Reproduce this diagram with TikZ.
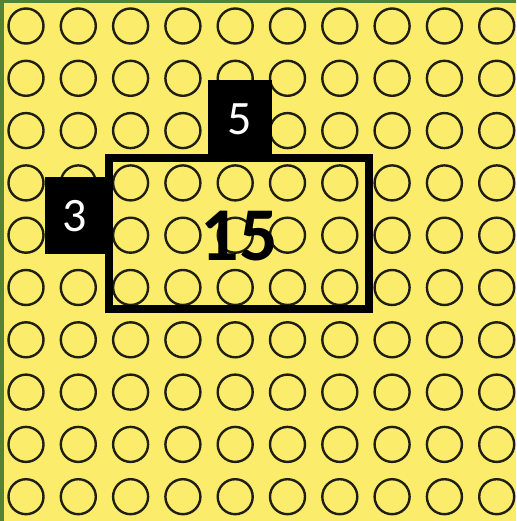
\documentclass[tikz,border=0pt]{standalone}
\usepackage{fontspec}
\setmainfont{Carlito}
\definecolor{bgyellow}{RGB}{252,236,108}
\definecolor{bggreen}{RGB}{84,130,53}
\definecolor{ringcol}{RGB}{30,30,20}
\tikzset{
  stud/.style={draw=ringcol, line width=2.4pt},
  labelbox/.style={fill=black, text=white, inner sep=0pt, font=\fontsize{48}{48}\selectfont},
  areabox/.style={draw=black, line width=8pt, inner sep=0pt},
}
\begin{document}
\begin{tikzpicture}[x=1pt,y=-1pt]
\useasboundingbox (0,0) rectangle (516,521);
\fill[bggreen] (0,0) rectangle (516,521);
\fill[bgyellow] (4,3) rectangle (516,521);
\foreach \i in {0,...,9}{
  \foreach \j in {0,...,9}{
    \draw[stud] ({26+52.3*\i},{26+52.3*\j}) circle (17.5);
  }
}
\node[areabox, minimum width=260pt, minimum height=151.5pt] (area) at (239,233.7) {};
\node[labelbox, minimum width=64pt, minimum height=74pt, text height=36.3pt] (top) at (239.7,117) {5};
\node[labelbox, minimum width=60pt, minimum height=77.6pt, text height=33.3pt] (left) at (75,215.5) {3};
\node[font=\fontsize{76}{76}\selectfont\bfseries, inner sep=0pt] (prod) at (239.5,236) {15};
\end{tikzpicture}
\end{document}
